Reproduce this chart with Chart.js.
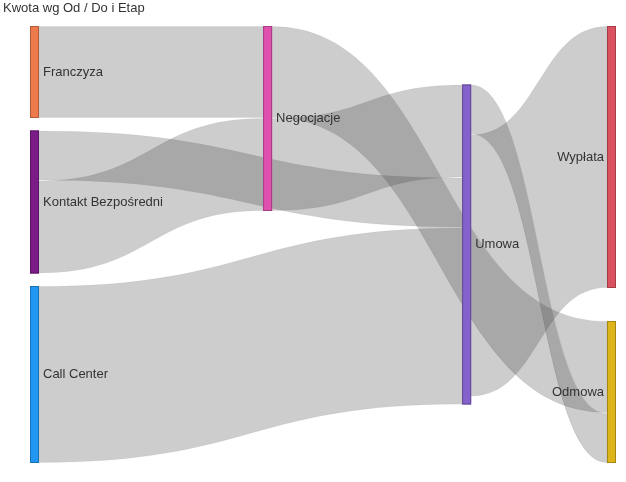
<!DOCTYPE html>
<html>
<head>
<meta charset="utf-8">
<script src="https://cdn.jsdelivr.net/npm/chart.js@4/dist/chart.umd.min.js"></script>
<style>
html,body{margin:0;padding:0;background:#fff;}
#wrap{width:626px;height:482px;position:relative;}
</style>
</head>
<body>
<div id="wrap"><canvas id="c"></canvas></div>
<script>
// ---- data ----
const chartTitle = 'Kwota wg Od / Do i Etap';
const nodeNames = ['Franczyza', 'Kontakt Bezpośredni', 'Call Center', 'Negocjacje', 'Umowa', 'Wypłata', 'Odmowa'];
const nodeColumns = [0, 0, 0, 1, 2, 3, 3];
const linkSources = [0, 1, 1, 2, 3, 3, 4, 4];
const linkTargets = [3, 4, 3, 4, 6, 4, 6, 5];
const linkValues  = [92, 50, 93, 177, 92, 93, 50, 262];

// ---- styles / layout ----
const nodeColors = ['#EC7A4A', '#7B1B87', '#2196F3', '#E050AE', '#8461CB', '#DA515F', '#DDB41B'];
const columnPositions = [0, 0.404, 0.749, 1];
const columnAlign = ['justify', 'start', 'center', 'justify'];
const NODE_W = 9;
const NODE_PAD = 12.5; // in value units
const LINK_FILL = 'rgba(60,60,60,0.26)';

function darken(hex, f) {
  const n = parseInt(hex.slice(1), 16);
  const r = Math.round(((n >> 16) & 255) * f), g = Math.round(((n >> 8) & 255) * f), b = Math.round((n & 255) * f);
  return `rgb(${r},${g},${b})`;
}

// node sizes
const inSum = nodeNames.map(() => 0), outSum = nodeNames.map(() => 0);
linkValues.forEach((v, i) => { outSum[linkSources[i]] += v; inSum[linkTargets[i]] += v; });
const nodeSize = nodeNames.map((_, i) => Math.max(inSum[i], outSum[i]));
const nCols = Math.max(...nodeColumns) + 1;
const cols = Array.from({length: nCols}, (_, c) => nodeNames.map((_, i) => i).filter(i => nodeColumns[i] === c));
const yMax = Math.max(...cols.map(ids => ids.reduce((s, i) => s + nodeSize[i], 0) + (ids.length - 1) * NODE_PAD));
const nodeY = [];
cols.forEach((ids, c) => {
  const total = ids.reduce((s, i) => s + nodeSize[i], 0);
  let align = columnAlign[c];
  if (ids.length === 1 && align === 'justify') align = 'center';
  if (align === 'justify') {
    const gap = (yMax - total) / (ids.length - 1);
    let y = 0; ids.forEach(i => { nodeY[i] = y; y += nodeSize[i] + gap; });
  } else if (align === 'start') {
    let y = 0; ids.forEach(i => { nodeY[i] = y; y += nodeSize[i] + NODE_PAD; });
  } else {
    let y = (yMax - total - (ids.length - 1) * NODE_PAD) / 2;
    ids.forEach(i => { nodeY[i] = y; y += nodeSize[i] + NODE_PAD; });
  }
});
// link offsets: source in list order, target sorted by source node position
const linkSY = [], linkTY = [];
const sOff = nodeY.slice();
linkValues.forEach((v, i) => { linkSY[i] = sOff[linkSources[i]]; sOff[linkSources[i]] += v; });
const tOff = nodeY.slice();
linkValues.map((v, i) => i)
  .sort((a, b) => (nodeY[linkSources[a]] - nodeY[linkSources[b]]) || (a - b))
  .forEach(i => { linkTY[i] = tOff[linkTargets[i]]; tOff[linkTargets[i]] += linkValues[i]; });

const sankeyPlugin = {
  id: 'sankeyDraw',
  afterDatasetsDraw(chart) {
    const ctx = chart.ctx, xs = chart.scales.x, ys = chart.scales.y;
    const nodeLeft = i => { const p = columnPositions[nodeColumns[i]]; return xs.getPixelForValue(p) - p * NODE_W; };
    ctx.save();
    // links
    linkValues.forEach((v, i) => {
      const s = linkSources[i], t = linkTargets[i];
      const x0 = nodeLeft(s) + NODE_W, x1 = nodeLeft(t), xm = (x0 + x1) / 2;
      const a0 = ys.getPixelForValue(linkSY[i]) + 0.5, a1 = ys.getPixelForValue(linkSY[i] + v) - 0.5;
      const b0 = ys.getPixelForValue(linkTY[i]) + 0.5, b1 = ys.getPixelForValue(linkTY[i] + v) - 0.5;
      ctx.beginPath();
      ctx.moveTo(x0, a0);
      ctx.bezierCurveTo(xm, a0, xm, b0, x1, b0);
      ctx.lineTo(x1, b1);
      ctx.bezierCurveTo(xm, b1, xm, a1, x0, a1);
      ctx.closePath();
      ctx.fillStyle = LINK_FILL;
      ctx.fill();
      ctx.strokeStyle = 'rgba(0,0,0,0.06)';
      ctx.lineWidth = 0.8;
      ctx.stroke();
    });
    // nodes
    nodeNames.forEach((name, i) => {
      const x = nodeLeft(i);
      const y0 = ys.getPixelForValue(nodeY[i]), y1 = ys.getPixelForValue(nodeY[i] + nodeSize[i]);
      ctx.fillStyle = nodeColors[i];
      ctx.fillRect(x, y0, NODE_W, y1 - y0);
      ctx.strokeStyle = darken(nodeColors[i], 0.75);
      ctx.lineWidth = 1;
      ctx.strokeRect(x + 0.5, y0 + 0.5, NODE_W - 1, y1 - y0 - 1);
    });
    // labels
    ctx.font = '13px "Liberation Sans", Arial, sans-serif';
    ctx.fillStyle = '#333333';
    ctx.textBaseline = 'middle';
    nodeNames.forEach((name, i) => {
      const x = nodeLeft(i);
      const yc = ys.getPixelForValue(nodeY[i] + nodeSize[i] / 2);
      if (nodeColumns[i] === nCols - 1) { ctx.textAlign = 'right'; ctx.fillText(name, x - 3, yc); }
      else { ctx.textAlign = 'left'; ctx.fillText(name, x + NODE_W + 4, yc); }
    });
    // title
    ctx.font = '13px "Liberation Sans", Arial, sans-serif';
    ctx.fillStyle = '#333333';
    ctx.textAlign = 'left';
    ctx.textBaseline = 'alphabetic';
    ctx.fillText(chartTitle, 3, 11.5);
    ctx.restore();
  }
};

new Chart(document.getElementById('c'), {
  type: 'scatter',
  data: { datasets: [{ data: [], pointRadius: 0 }] },
  options: {
    responsive: true,
    maintainAspectRatio: false,
    animation: false,
    layout: { padding: { left: 30, right: 10, top: 26, bottom: 19 } },
    scales: {
      x: { type: 'linear', min: 0, max: 1, display: false },
      y: { type: 'linear', min: 0, max: yMax, reverse: true, display: false }
    },
    plugins: { legend: { display: false }, tooltip: { enabled: false }, title: { display: false } }
  },
  plugins: [sankeyPlugin]
});
</script>
</body>
</html>
